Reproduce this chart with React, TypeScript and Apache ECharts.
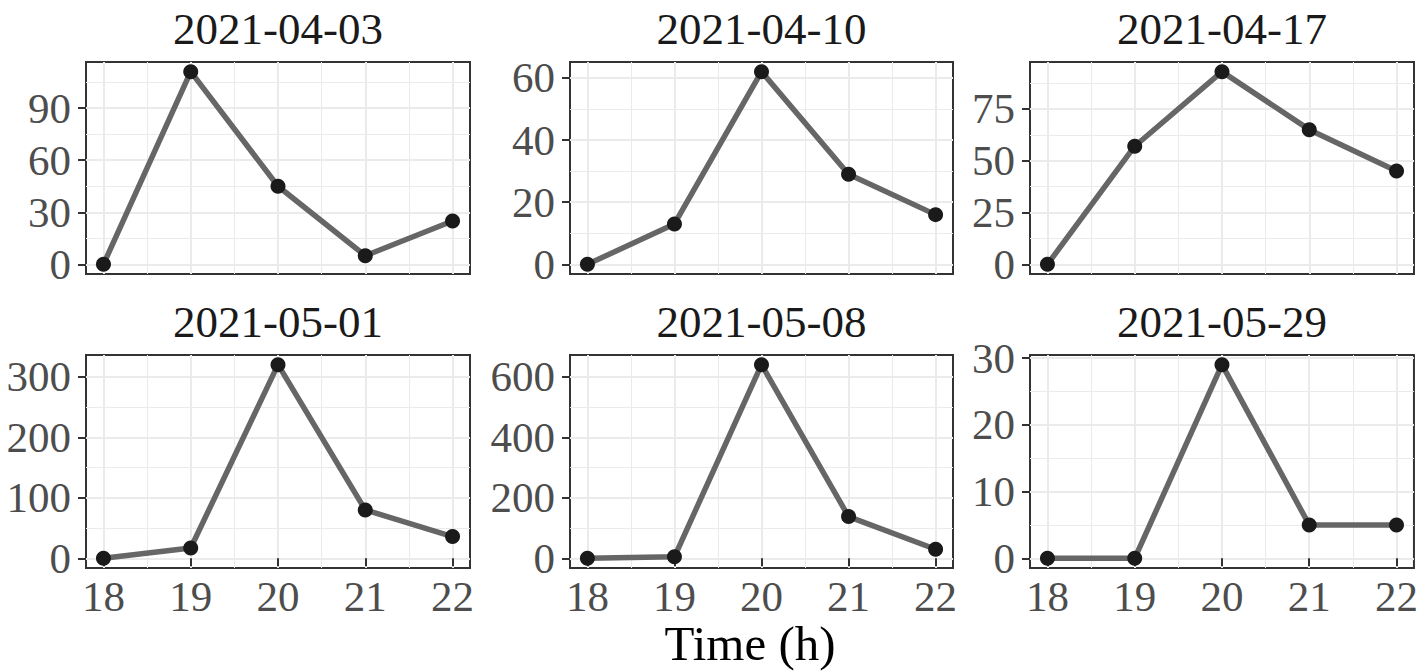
import React, { useEffect, useRef } from "react";
import * as echarts from "echarts";

// ---- data ----
const hours = [18, 19, 20, 21, 22];
const panelDates = ["2021-04-03", "2021-04-10", "2021-04-17", "2021-05-01", "2021-05-08", "2021-05-29"];
const counts0403 = [0, 111, 45, 5, 25];
const counts0410 = [0, 13, 62, 29, 16];
const counts0417 = [0, 57, 93, 65, 45];
const counts0501 = [0, 17, 320, 80, 36];
const counts0508 = [0, 5, 640, 138, 30];
const counts0529 = [0, 0, 29, 5, 5];

const yBreaks0403 = [0, 30, 60, 90];
const yBreaks0410 = [0, 20, 40, 60];
const yBreaks0417 = [0, 25, 50, 75];
const yBreaks0501 = [0, 100, 200, 300];
const yBreaks0508 = [0, 200, 400, 600];
const yBreaks0529 = [0, 10, 20, 30];

const yMinor0403 = [15, 45, 75, 105];
const yMinor0410 = [10, 30, 50];
const yMinor0417 = [12.5, 37.5, 62.5, 87.5];
const yMinor0501 = [50, 150, 250];
const yMinor0508 = [100, 300, 500];
const yMinor0529 = [5, 15, 25];

const xMinor = [18.5, 19.5, 20.5, 21.5];
const xAxisTitle = "Time (h)";

const panelValues = [counts0403, counts0410, counts0417, counts0501, counts0508, counts0529];
const panelBreaks = [yBreaks0403, yBreaks0410, yBreaks0417, yBreaks0501, yBreaks0508, yBreaks0529];
const panelMinor = [yMinor0403, yMinor0410, yMinor0417, yMinor0501, yMinor0508, yMinor0529];

// ---- layout ----
const FONT = "'Liberation Serif', 'Times New Roman', serif";
const colLeft = [86, 570, 1030];
const colWidth = [384, 383, 384];
const rowTop = [62, 355];
const rowHeight = [212, 213];

function buildOption() {
  const grid: any[] = [];
  const xAxis: any[] = [];
  const yAxis: any[] = [];
  const series: any[] = [];
  const graphic: any[] = [];

  const xMin = hours[0] - 0.05 * (hours[hours.length - 1] - hours[0]);
  const xMax = hours[hours.length - 1] + 0.05 * (hours[hours.length - 1] - hours[0]);

  panelValues.forEach((vals, i) => {
    const r = Math.floor(i / 3);
    const c = i % 3;
    const left = colLeft[c];
    const top = rowTop[r];
    const w = colWidth[c];
    const h = rowHeight[r];
    grid.push({
      left, top, width: w, height: h,
      show: true, borderColor: "#333333", borderWidth: 2, backgroundColor: "#ffffff",
      containLabel: false,
    });
    const vmax = Math.max(...vals);
    const vmin = Math.min(...vals);
    const yMin = vmin - 0.05 * (vmax - vmin);
    const yMax = vmax + 0.05 * (vmax - vmin);
    const bottomRow = r === 1;

    xAxis.push({
      type: "value", gridIndex: i, min: xMin, max: xMax, position: "bottom",
      axisLine: { show: false },
      axisTick: { show: bottomRow, customValues: hours, length: 8, lineStyle: { color: "#333333", width: 2 } },
      axisLabel: {
        show: bottomRow, customValues: hours, margin: 10, fontSize: 43, lineHeight: 36,
        color: "#4D4D4D", fontFamily: FONT,
      },
      splitLine: { show: true, lineStyle: { color: "#EBEBEB", width: 2 } },
    });
    xAxis.push({
      type: "value", gridIndex: i, min: xMin, max: xMax, position: "top",
      axisLine: { show: false },
      axisTick: { show: false, customValues: xMinor },
      axisLabel: { show: false, customValues: xMinor },
      splitLine: { show: true, lineStyle: { color: "#EBEBEB", width: 1 } },
    });
    yAxis.push({
      type: "value", gridIndex: i, min: yMin, max: yMax, position: "left",
      axisLine: { show: false },
      axisTick: { show: true, customValues: panelBreaks[i], length: 8, lineStyle: { color: "#333333", width: 2 } },
      axisLabel: { show: true, customValues: panelBreaks[i], margin: 15, fontSize: 43, color: "#4D4D4D", fontFamily: FONT },
      splitLine: { show: true, lineStyle: { color: "#EBEBEB", width: 2 } },
    });
    yAxis.push({
      type: "value", gridIndex: i, min: yMin, max: yMax, position: "right",
      axisLine: { show: false },
      axisTick: { show: false, customValues: panelMinor[i] },
      axisLabel: { show: false, customValues: panelMinor[i] },
      splitLine: { show: true, lineStyle: { color: "#EBEBEB", width: 1 } },
    });
    series.push({
      type: "line",
      xAxisIndex: 2 * i,
      yAxisIndex: 2 * i,
      data: hours.map((hh, j) => [hh, vals[j]]),
      lineStyle: { color: "#666666", width: 5.5 },
      symbol: "circle",
      symbolSize: 15,
      showSymbol: true,
      itemStyle: { color: "#1A1A1A", borderWidth: 0 },
      z: 5,
      silent: true,
    });
    graphic.push({
      type: "text",
      x: left + w / 2,
      y: top - 33,
      style: {
        text: panelDates[i], fontSize: 45, fontFamily: FONT, fill: "#1A1A1A",
        textAlign: "center", textVerticalAlign: "middle",
      },
    });
  });

  graphic.push({
    type: "text",
    x: (colLeft[0] + colLeft[2] + colWidth[2]) / 2,
    y: 643,
    style: {
      text: xAxisTitle, fontSize: 49, fontFamily: FONT, fill: "#000000",
      textAlign: "center", textVerticalAlign: "middle", lineHeight: 40,
    },
  });

  return {
    animation: false,
    backgroundColor: "#ffffff",
    grid, xAxis, yAxis, series, graphic,
  };
}

export default function App() {
  const ref = useRef<HTMLDivElement>(null);
  useEffect(() => {
    if (!ref.current) return;
    const chart = echarts.init(ref.current, undefined, { renderer: "svg" });
    chart.setOption(buildOption() as any);
    return () => chart.dispose();
  }, []);
  return (
    <div
      ref={ref}
      style={{ position: "fixed", left: 0, top: 0, width: 1421, height: 672, background: "#fff" }}
    />
  );
}
